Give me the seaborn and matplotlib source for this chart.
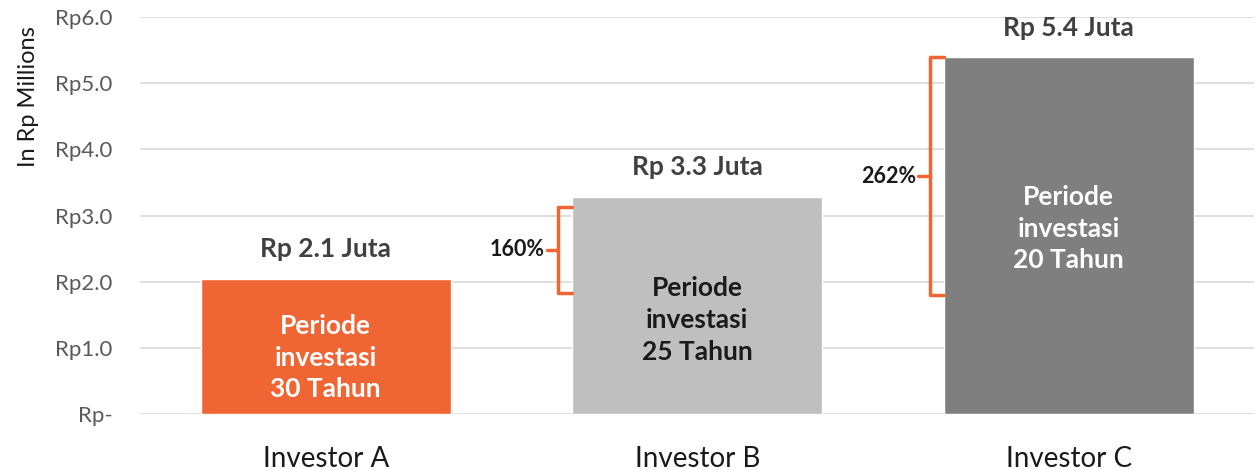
import matplotlib
matplotlib.use("Agg")
import matplotlib.pyplot as plt
import seaborn as sns
import pandas as pd

categories = ["Investor A", "Investor B", "Investor C"]
values = [2.04, 3.28, 5.39]
top_labels = ["Rp 2.1 Juta", "Rp 3.3 Juta", "Rp 5.4 Juta"]
inner_labels = ["Periode\ninvestasi\n30 Tahun", "Periode\ninvestasi\n25 Tahun", "Periode\ninvestasi\n20 Tahun"]
inner_colors = ["white", "#1a1a1a", "white"]
bar_colors = ["#F06534", "#BFBFBF", "#7F7F7F"]
yticks = [0, 1, 2, 3, 4, 5, 6]
ytick_labels = ["Rp-", "Rp1.0", "Rp2.0", "Rp3.0", "Rp4.0", "Rp5.0", "Rp6.0"]
pct_labels = ["160%", "262%"]
brace_ranges = [(1.83, 3.13), (1.80, 5.39)]

sns.set_theme(style="white")
plt.rcParams["font.family"] = ["Lato", "DejaVu Sans"]

df = pd.DataFrame({"cat": categories, "val": values})
fig = plt.figure(figsize=(12.58, 4.70), dpi=100)
ax = fig.add_axes([0.1113, 0.1191, 0.8859, 0.8447])
sns.barplot(data=df, x="cat", y="val", hue="cat", palette=bar_colors,
            width=0.673, legend=False, ax=ax, saturation=1, zorder=3)

ax.set_xlim(-0.5, 2.5)
ax.set_ylim(0, 6)
ax.set_yticks(yticks)
ax.set_yticklabels(ytick_labels, color="#595959", fontsize=16)
ax.tick_params(axis="x", labelsize=20, colors="#1a1a1a", length=0, pad=23)
ax.tick_params(axis="y", length=0, pad=20)
ax.grid(axis="y", color="#D9D9D9", linewidth=1.2, zorder=0)
for s in ax.spines.values():
    s.set_visible(False)
ax.set_xlabel("")
ax.set_ylabel("In Rp Millions", fontsize=17, color="#1a1a1a")
ax.yaxis.set_label_coords(-0.091, 0.80)

for i, (v, t) in enumerate(zip(values, top_labels)):
    ax.text(i, v + 0.45, t, ha="center", va="center", fontsize=19,
            fontweight="bold", color="#404040")

inner_y = [0.85, 1.42, 2.80]
for i, (lab, c) in enumerate(zip(inner_labels, inner_colors)):
    ax.text(i, inner_y[i], lab, ha="center", va="center", fontsize=19,
            fontweight="bold", color=c, linespacing=1.38, zorder=4)

# braces
half = 0.673 / 2
for k, (i, (lo, hi)) in enumerate(zip([1, 2], brace_ranges)):
    xe = i - half
    xb = xe - 0.038
    col = "#F06534"
    ax.plot([xe, xb, xb, xe], [hi, hi, lo, lo], color=col, lw=2.5, zorder=5,
            solid_joinstyle="round", solid_capstyle="round", clip_on=False)
    mid = (lo + hi) / 2
    ax.plot([xb, xb - 0.03], [mid, mid], color=col, lw=2.5, zorder=5)
    ax.text(xb - 0.037, mid, pct_labels[k], ha="right", va="center",
            fontsize=15.5, fontweight="bold", color="#1a1a1a")

fig.savefig("out.png", dpi=100)
